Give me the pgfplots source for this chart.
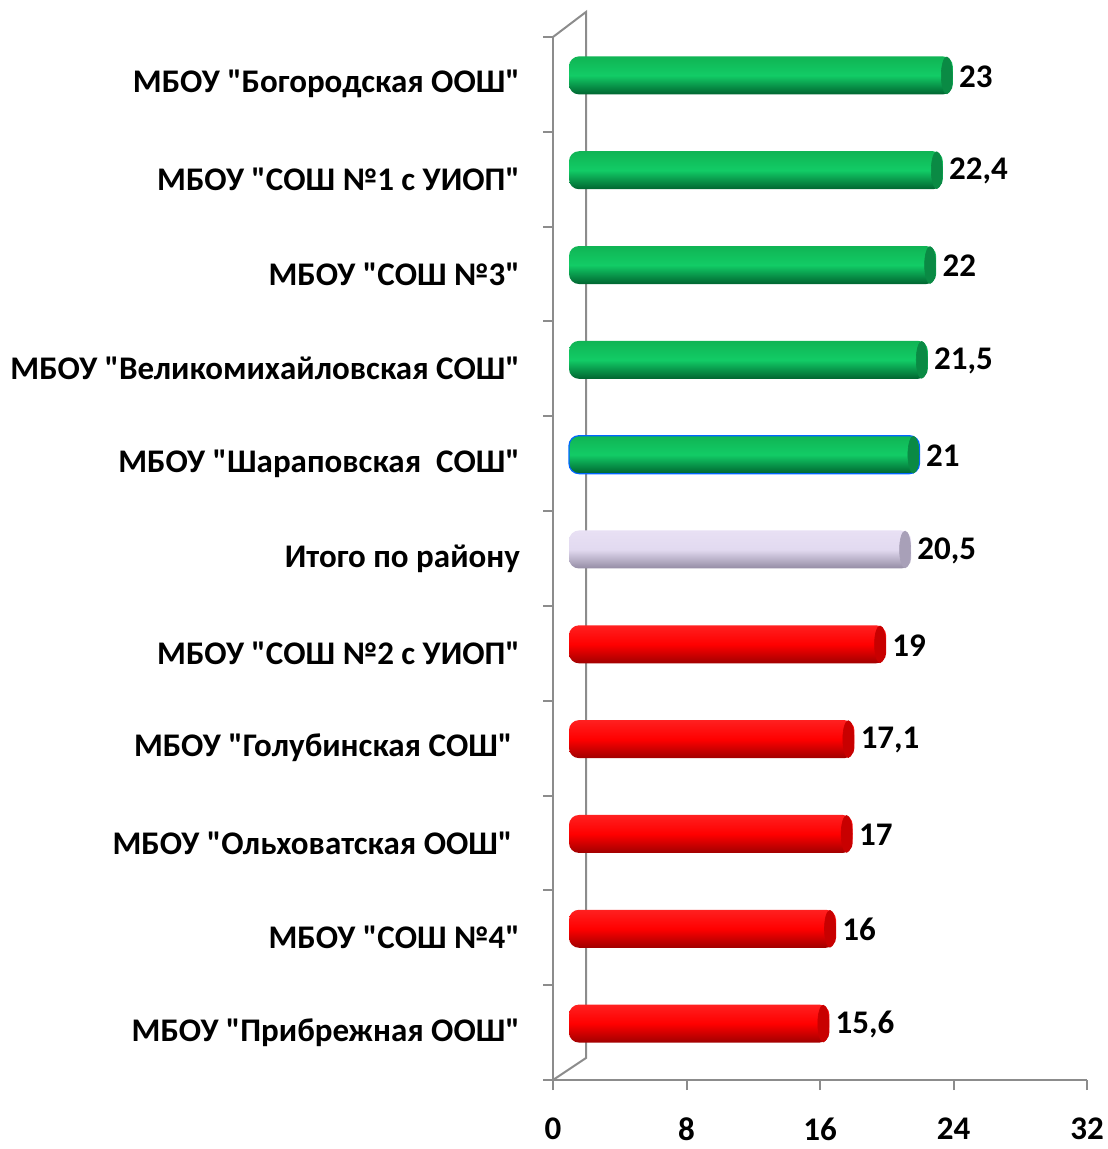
\documentclass[border=0pt]{standalone}
\usepackage{fontspec}
\setmainfont{Carlito}[Ligatures=TeXOff]
\usepackage{pgfplots}
\pgfplotsset{compat=1.18}
\definecolor{gtop}{HTML}{10B454}
\definecolor{gmid}{HTML}{12CC66}
\definecolor{gbot}{HTML}{006430}
\definecolor{gcap}{HTML}{0A8A44}
\definecolor{rtop}{HTML}{FF2020}
\definecolor{rmid}{HTML}{FF0000}
\definecolor{rbot}{HTML}{A00000}
\definecolor{rcap}{HTML}{C80000}
\definecolor{ltop}{HTML}{E8E0F4}
\definecolor{lmid}{HTML}{E2DAF0}
\definecolor{lbot}{HTML}{948CA4}
\definecolor{lcap}{HTML}{A8A0B8}
\definecolor{axgray}{HTML}{8C8C8C}
\pgfplotsset{
  cyl/.style={xbar, bar width=19pt, draw=none, rounded corners=5pt, xshift=8pt, yshift=4.5pt},
  gbar/.style={cyl, top color=gtop, bottom color=gbot, middle color=gmid},
  rbar/.style={cyl, top color=rtop, bottom color=rbot, middle color=rmid},
  lbar/.style={cyl, top color=ltop, bottom color=lbot, middle color=lmid},
  cap/.style={only marks, color=#1, nodes near coords={}, mark=*, mark size=9.2pt, xshift=5pt, yshift=4.5pt,
     mark options={xscale=0.3, draw=#1, fill=#1, line width=0.3pt}},
}
\begin{document}
\begin{tikzpicture}
\begin{axis}[
  set layers,
  width=267pt, height=521.5pt, scale only axis,
  xmin=0, xmax=32, ymin=-0.5, ymax=10.5,
  xtick={0,8,16,24,32},
  ytick={-0.5,0.5,...,10.5},
  y tick label as interval,
  yticklabels={МБОУ "Прибрежная ООШ",МБОУ "СОШ №4",МБОУ "Ольховатская ООШ"\ \ ,МБОУ "Голубинская СОШ"\ \ ,МБОУ "СОШ №2 с УИОП",Итого по району,МБОУ "Шараповская\ \ СОШ",МБОУ "Великомихайловская СОШ",МБОУ "СОШ №3",МБОУ "СОШ №1 с УИОП",МБОУ "Богородская ООШ"},
  axis x line*=bottom, axis y line*=left,
  axis line style={axgray, line width=1pt},
  tick style={axgray, line width=1pt},
  tick align=outside, major tick length=5pt,
  tick label style={font=\bfseries\fontsize{16.5}{16.5}\selectfont, black},
  yticklabel style={xshift=-8pt},
  xticklabel style={yshift=-10.5pt},
  clip=false,
  /pgf/number format/.cd, use comma, 1000 sep={}, assume math mode=true,
  /pgfplots/.cd,
  point meta=x,
  nodes near coords,
  every node near coord/.append style={font=\bfseries\fontsize{16.5}{16.5}\selectfont, black, anchor=west, inner sep=2pt, xshift=1pt, yshift=-0.5pt},
]
\begin{pgfonlayer}{axis background}
\draw[axgray, line width=1pt] (axis cs:0,-0.5) -- ([xshift=16.5pt,yshift=11pt]axis cs:0,-0.5) -- ([xshift=16.5pt,yshift=12.5pt]axis cs:0,10.5) -- (axis cs:0,10.5);
\end{pgfonlayer}
\addplot[gbar] coordinates {(23,10)};
\addplot[gbar] coordinates {(22.4,9)};
\addplot[gbar] coordinates {(22,8)};
\addplot[gbar] coordinates {(21.5,7)};
\addplot[gbar, draw=blue!60!cyan, line width=0.6pt] coordinates {(21,6)};
\addplot[lbar] coordinates {(20.5,5)};
\addplot[rbar] coordinates {(19,4)};
\addplot[rbar] coordinates {(17.1,3)};
\addplot[rbar] coordinates {(17,2)};
\addplot[rbar] coordinates {(16,1)};
\addplot[rbar] coordinates {(15.6,0)};
\addplot[cap=gcap] coordinates {(23,10) (22.4,9) (22,8) (21.5,7) (21,6)};
\addplot[cap=lcap] coordinates {(20.5,5)};
\addplot[cap=rcap] coordinates {(19,4) (17.1,3) (17,2) (16,1) (15.6,0)};
\coordinate (O) at (rel axis cs:0,0);
\end{axis}
\pgfresetboundingbox
\path (O) ++(-276.5pt,-34.5pt) rectangle ++(553.5pt,574.5pt);
\end{tikzpicture}
\end{document}
